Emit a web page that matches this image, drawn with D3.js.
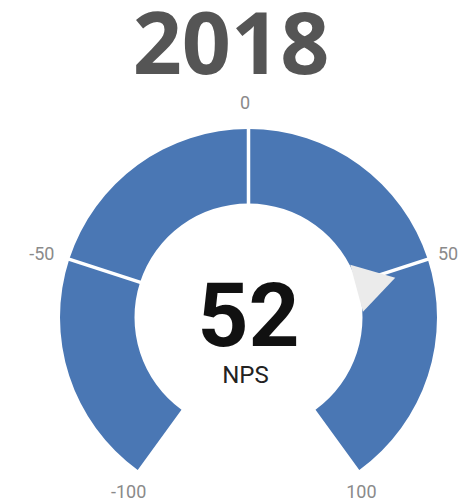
<!DOCTYPE html>
<html><head><meta charset="utf-8">
<script src="https://cdn.jsdelivr.net/npm/d3@7"></script>
<style>html,body{margin:0;padding:0;background:#fff;}svg{display:block;}</style>
</head><body>
<script>
const title = "2018";
const segments = [[-100,-50],[-50,0],[0,50],[50,100]];
const tickValues = [-100,-50,0,50,100];
const npsValue = 52;
const valueLabel = "NPS";

const W = 470, H = 503;
const cx = 248.5, cy = 317.5, rOuter = 188.5, rInner = 114;
const svg = d3.select("body").append("svg").attr("width", W).attr("height", H);

svg.append("text").attr("x", 231).attr("y", 74).attr("text-anchor","middle")
  .attr("font-family","Open Sans").attr("font-weight","bold").attr("font-size",86)
  .attr("fill","#555").text(title);

const angle = d3.scaleLinear().domain([-100,100]).range([-0.8*Math.PI, 0.8*Math.PI]);
const labelAngle = d3.scaleLinear().domain([-100,100]).range([-0.815*Math.PI, 0.815*Math.PI]);
const g = svg.append("g").attr("transform",`translate(${cx},${cy})`);
const arc = d3.arc().innerRadius(rInner).outerRadius(rOuter);
g.selectAll("path.seg").data(segments).join("path").attr("class","seg")
  .attr("d", d => arc({startAngle: angle(d[0]), endAngle: angle(d[1])}))
  .attr("fill","#4a77b4");

const pt = (v, r) => [Math.sin(angle(v))*r, -Math.cos(angle(v))*r];
g.selectAll("line.sep").data(tickValues.slice(1,-1)).join("line").attr("class","sep")
  .attr("x1", d => pt(d, rInner-2)[0]).attr("y1", d => pt(d, rInner-2)[1])
  .attr("x2", d => pt(d, rOuter+2)[0]).attr("y2", d => pt(d, rOuter+2)[1])
  .attr("stroke","#fff").attr("stroke-width",3.5);

g.selectAll("text.tick").data(tickValues).join("text").attr("class","tick")
  .attr("x", d => Math.sin(labelAngle(d))*212 - 3.5)
  .attr("y", d => -Math.cos(labelAngle(d))*212 - 3)
  .attr("text-anchor","middle").attr("dominant-baseline","central")
  .attr("font-family","Roboto").attr("font-size",18).attr("fill","#8a8a8a")
  .text(d => d);

// pointer
const a = angle(npsValue);
const tip = pt(npsValue, 152), base = pt(npsValue, 112);
const px = Math.cos(a)*24.4, py = Math.sin(a)*24.4;
g.append("path")
  .attr("d", `M${tip[0]},${tip[1]}L${base[0]+px},${base[1]+py}L${base[0]-px},${base[1]-py}Z`)
  .attr("fill","#ebebeb");

svg.append("text").attr("x", 248.5).attr("y", 346).attr("text-anchor","middle")
  .attr("font-family","Roboto").attr("font-weight","bold").attr("font-size",89)
  .attr("fill","#111").text(npsValue);
svg.append("text").attr("x", 245.5).attr("y", 383).attr("text-anchor","middle")
  .attr("font-family","Roboto").attr("font-size",24)
  .attr("fill","#222").text(valueLabel);
</script>
</body></html>
